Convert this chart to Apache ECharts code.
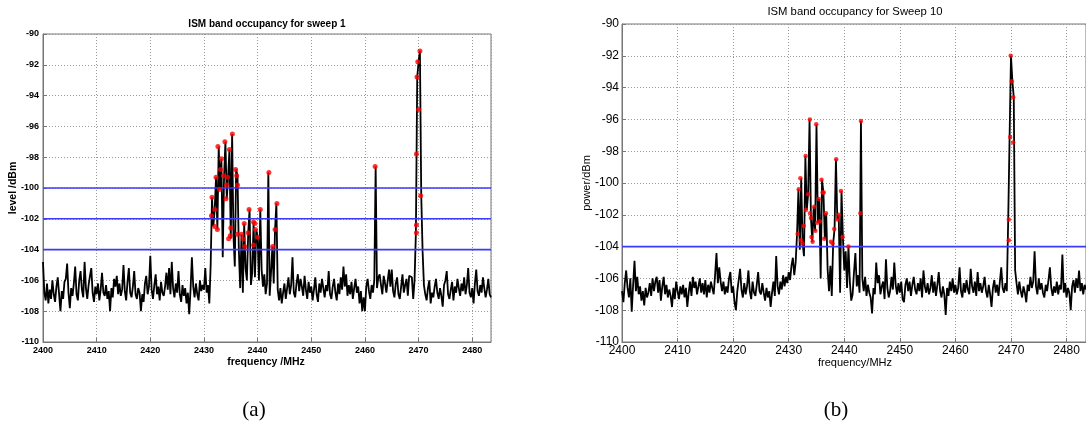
<!DOCTYPE html>
<html>
<head>
<meta charset="utf-8">
<script src="https://cdn.jsdelivr.net/npm/echarts@6/dist/echarts.min.js"></script>
<style>
html,body{margin:0;padding:0;background:#fff;overflow:hidden;}
#chart{width:1086px;height:425px;}
</style>
</head>
<body>
<div id="chart"></div>
<script>
// ---- data ----
const FREQ_START = 2400;
const FREQ_STEP = 0.25;
const FREQ_END = 2483.5;
const xTickStep = 10;
const yMin = -110, yMax = -90, yTickStep = 2;

// sweep 1 trace (dBm), one value per 0.25 MHz from 2400 to 2483.5
const sweep1Power = [
-104.8,-106.8,-107.3,-106.2,-107.5,-106.6,-107.2,-106.0,-106.9,-107.4,-106.4,-105.8,-106.9,-108.0,-106.7,-107.2,-106.1,-105.9,-104.9,-106.8,
-107.8,-106.5,-107.0,-106.2,-105.1,-106.9,-107.3,-106.0,-105.4,-106.6,-107.1,-104.8,-106.5,-107.2,-106.3,-105.7,-105.2,-106.8,-107.4,-106.4,
-106.9,-106.2,-107.3,-106.6,-105.5,-106.8,-107.0,-106.3,-107.2,-106.7,-108.0,-106.5,-107.1,-105.9,-106.4,-105.7,-106.9,-106.2,-107.0,-106.6,
-105.0,-106.7,-107.3,-106.1,-105.2,-106.8,-107.1,-106.4,-105.4,-106.9,-107.2,-106.5,-106.8,-108.0,-106.9,-107.4,-106.2,-105.7,-106.9,-106.4,
-104.4,-106.6,-107.2,-106.3,-105.6,-106.9,-106.4,-107.3,-106.1,-106.8,-107.0,-106.4,-105.5,-106.6,-105.2,-106.9,-104.8,-106.5,-107.1,-106.2,
-106.8,-105.4,-106.9,-107.4,-106.3,-107.0,-106.5,-107.5,-106.8,-108.2,-106.6,-104.5,-106.4,-107.1,-106.2,-106.9,-107.3,-106.0,-106.7,-106.3,
-106.6,-105.2,-106.8,-106.3,-107.5,-105.0,-100.6,-102.5,-101.4,-99.3,-102.7,-97.3,-100.1,-98.1,-104.5,-99.2,-97.0,-100.7,-99.3,-97.5,
-103.3,-96.5,-103.1,-105.1,-98.8,-99.2,-104.0,-106.5,-103.0,-106.8,-102.3,-105.2,-106.0,-102.9,-101.4,-106.3,-105.5,-102.2,-105.8,-102.7,
-103.2,-106.0,-101.4,-105.3,-106.4,-105.6,-106.9,-106.2,-99.0,-107.0,-105.5,-103.8,-106.2,-102.7,-101.0,-106.6,-107.3,-106.5,-107.5,-106.8,
-106.2,-107.2,-106.5,-105.8,-106.9,-106.3,-104.5,-106.8,-107.1,-106.2,-105.6,-106.7,-105.9,-106.4,-107.0,-105.7,-106.6,-107.2,-106.1,-106.8,
-106.4,-107.3,-106.6,-105.8,-106.9,-107.4,-106.2,-106.8,-105.9,-106.5,-107.1,-106.3,-106.7,-105.4,-106.9,-107.2,-106.4,-105.9,-106.8,-107.3,
-106.2,-106.9,-105.8,-106.6,-105.1,-106.4,-105.6,-107.0,-106.3,-106.9,-106.1,-107.2,-106.5,-105.9,-106.8,-106.4,-107.5,-106.7,-108.0,-107.1,
-108.0,-106.4,-105.9,-106.7,-107.2,-106.3,-106.8,-106.0,-98.6,-106.5,-105.8,-105.6,-106.3,-106.9,-105.7,-106.2,-106.8,-106.0,-105.3,-106.4,
-105.3,-106.7,-107.1,-106.2,-105.8,-106.9,-107.2,-106.4,-105.6,-106.8,-106.3,-105.9,-107.0,-105.7,-105.7,-105.8,-107.2,-106.0,-102.9,-92.8,
-91.8,-91.1,-100.5,-104.1,-106.3,-106.9,-107.3,-106.5,-106.0,-107.5,-106.8,-107.1,-106.4,-105.9,-106.8,-107.2,-106.5,-107.0,-107.7,-106.3,
-106.0,-105.4,-106.9,-107.2,-106.6,-106.1,-107.3,-106.4,-106.8,-105.9,-106.5,-107.0,-106.2,-106.7,-105.8,-106.9,-106.3,-105.2,-106.8,-107.1,
-106.5,-107.5,-106.2,-105.3,-106.7,-107.0,-106.3,-106.8,-105.8,-106.5,-107.1,-106.6,-105.9,-106.9,-107.1
];

// sweep 10 trace (dBm)
const sweep10Power = [
-106.8,-107.5,-106.3,-105.5,-106.6,-107.2,-106.0,-108.1,-106.4,-104.9,-106.8,-105.9,-107.0,-106.5,-107.4,-106.8,-107.7,-106.6,-107.2,-106.9,
-106.3,-107.1,-106.0,-106.8,-106.2,-105.9,-106.9,-106.1,-107.4,-106.5,-105.9,-107.0,-106.4,-107.2,-106.7,-107.1,-107.8,-106.6,-107.3,-106.2,
-106.8,-107.3,-106.5,-107.0,-106.4,-107.2,-106.6,-107.8,-106.9,-106.2,-107.1,-105.9,-106.6,-106.2,-107.0,-106.5,-106.0,-106.9,-106.3,-107.0,
-106.1,-107.2,-106.4,-106.9,-106.2,-106.6,-107.0,-105.8,-104.4,-106.3,-105.3,-106.2,-106.8,-106.2,-107.0,-106.5,-106.9,-106.0,-105.6,-106.9,
-106.5,-107.5,-108.0,-106.8,-106.1,-105.4,-106.7,-107.2,-106.3,-107.0,-106.5,-105.5,-106.8,-107.3,-106.2,-106.9,-107.1,-106.4,-105.6,-106.8,
-107.0,-106.3,-106.9,-107.4,-106.6,-107.2,-106.8,-107.8,-106.9,-106.2,-107.1,-104.6,-106.5,-107.0,-106.2,-106.7,-105.8,-106.5,-105.9,-106.3,
-105.6,-106.1,-105.2,-104.7,-105.8,-105.0,-103.2,-100.4,-104.2,-99.7,-103.8,-104.6,-98.3,-101.7,-100.7,-96.0,-102.2,-103.7,-101.5,-103.0,
-96.3,-102.5,-101.0,-106.0,-99.8,-100.6,-103.5,-101.9,-105.4,-106.8,-105.2,-107.1,-103.8,-102.9,-98.5,-102.3,-102.0,-106.9,-100.5,-103.4,
-105.5,-104.3,-106.6,-104.0,-106.2,-107.4,-107.0,-105.6,-104.4,-106.5,-105.8,-106.9,-96.1,-106.0,-106.8,-105.9,-107.1,-106.4,-106.9,-107.2,
-108.2,-106.6,-107.0,-105.0,-106.3,-105.8,-107.0,-106.5,-106.2,-107.3,-104.8,-106.6,-107.2,-106.8,-105.9,-106.7,-105.0,-106.4,-107.0,-106.3,
-106.9,-106.2,-107.3,-107.5,-106.4,-106.0,-106.8,-106.2,-107.1,-106.4,-105.9,-106.7,-107.0,-106.3,-106.8,-106.0,-107.2,-105.5,-106.5,-106.9,
-106.3,-107.0,-106.6,-105.8,-106.9,-106.2,-107.1,-106.4,-105.6,-106.8,-107.2,-106.5,-107.0,-108.3,-106.6,-107.1,-106.2,-106.8,-106.0,-106.9,
-106.4,-107.0,-106.6,-105.3,-106.8,-107.2,-106.3,-106.9,-106.1,-106.7,-107.0,-105.4,-106.5,-106.9,-106.2,-107.1,-105.6,-106.8,-106.3,-106.9,
-106.5,-105.9,-106.8,-107.2,-106.4,-107.0,-107.8,-106.6,-106.1,-106.9,-106.4,-107.1,-106.2,-105.3,-106.6,-106.9,-106.3,-106.8,-102.3,-97.1,
-92.0,-93.6,-94.6,-105.5,-106.3,-107.0,-106.2,-106.8,-107.2,-106.5,-106.9,-107.5,-106.4,-106.8,-105.9,-106.6,-106.2,-104.3,-106.5,-107.0,
-106.0,-106.7,-106.3,-106.9,-107.2,-106.4,-106.8,-106.1,-105.3,-106.6,-107.1,-106.5,-106.9,-106.2,-107.0,-106.4,-106.7,-104.5,-106.9,-106.3,
-107.2,-106.6,-106.9,-108.0,-106.5,-106.1,-106.9,-106.0,-106.6,-105.5,-106.8,-106.3,-107.0,-106.4,-106.7
];

// detected peaks (red markers)
const sweep1PeakFreq = [2431.4,2431.5,2432.0,2432.0,2432.25,2432.5,2432.6,2432.9,2433.1,2433.25,2433.6,2433.9,2434.1,2434.2,2434.4,2434.6,2434.75,2434.9,2435.0,2435.3,2435.9,2436.1,2436.25,2436.25,2437.0,2437.3,2437.5,2437.6,2438.25,2438.4,2439.25,2439.25,2439.5,2439.6,2440.0,2440.5,2442.1,2442.8,2443.25,2443.6,2461.9,2469.6,2469.6,2469.6,2469.7,2469.85,2470.0,2470.25,2470.4];
const sweep1PeakPower = [-101.8,-100.6,-101.4,-102.5,-99.3,-102.7,-97.3,-100.1,-98.8,-98.1,-99.2,-97.0,-100.7,-99.8,-99.3,-103.3,-97.5,-103.1,-102.6,-96.5,-98.8,-99.2,-99.8,-103.0,-103.0,-103.3,-102.3,-103.8,-102.9,-101.4,-102.2,-103.7,-102.3,-102.7,-103.2,-101.4,-99.0,-103.8,-102.7,-101.0,-98.6,-102.9,-102.4,-97.8,-92.8,-91.8,-94.9,-91.1,-100.5];

const sweep10PeakFreq = [2431.6,2431.8,2432.1,2432.2,2432.5,2432.7,2433.05,2433.1,2433.5,2433.8,2433.85,2434.0,2434.1,2434.3,2434.6,2434.8,2434.95,2435.1,2435.4,2435.6,2435.9,2436.1,2436.3,2436.4,2436.7,2437.6,2437.9,2438.2,2438.55,2438.8,2439.0,2439.4,2439.7,2440.75,2442.9,2443.0,2469.6,2469.6,2469.85,2469.95,2470.15,2470.4,2470.4];
const sweep10PeakPower = [-103.2,-100.4,-99.7,-103.6,-103.8,-102.7,-98.3,-101.7,-100.7,-96.0,-101.9,-102.2,-103.4,-103.7,-101.5,-103.0,-96.3,-102.5,-101.0,-102.4,-99.8,-100.6,-100.6,-103.5,-101.9,-103.7,-103.8,-102.9,-98.5,-102.3,-102.0,-100.5,-103.4,-104.0,-101.9,-96.1,-103.6,-102.3,-97.1,-92.0,-93.6,-94.6,-97.45];

const sweep1Thresholds = [-100, -102, -104];
const sweep10Thresholds = [-104];

const titles = ['ISM band occupancy for sweep 1', 'ISM band occupancy for Sweep 10'];
const xNames = ['frequency /MHz', 'frequency/MHz'];
const yNames = ['level /dBm', 'power/dBm'];
const captions = ['(a)', '(b)'];

// ---- build ----
function trace(p) { return p.map((v, i) => [FREQ_START + i * FREQ_STEP, v]); }
function peaks(f, p) { return f.map((x, i) => [x, p[i]]); }

const SANS = '"Liberation Sans", Arial, Helvetica, sans-serif';

const grids = [
  {left: 43, top: 34, width: 448, height: 308},
  {left: 622, top: 24, width: 466, height: 318}
];

function xAxis(i, fs, bold, margin) {
  return {
    type: 'value', gridIndex: i, min: FREQ_START, max: FREQ_END, interval: xTickStep,
    axisLine: {show: true, lineStyle: {color: '#777', width: 1}},
    axisTick: {show: true, inside: true, length: 4, lineStyle: {color: '#777'}},
    axisLabel: {show: true, color: '#000', fontSize: fs, fontWeight: bold ? 'bold' : 'normal',
      fontFamily: SANS, margin: margin, showMaxLabel: false,
      formatter: v => (Math.abs(v % xTickStep) < 1e-6 ? String(v) : '')},
    splitLine: {show: true, lineStyle: {color: '#9a9a9a', type: [1, 2], width: 1}}
  };
}
function yAxis(i, fs, bold, margin) {
  return {
    type: 'value', gridIndex: i, min: yMin, max: yMax, interval: yTickStep,
    axisLine: {show: true, lineStyle: {color: '#777', width: 1}},
    axisTick: {show: true, inside: true, length: 4, lineStyle: {color: '#777'}},
    axisLabel: {show: true, color: '#000', fontSize: fs, fontWeight: bold ? 'bold' : 'normal',
      fontFamily: SANS, margin: margin},
    splitLine: {show: true, lineStyle: {color: '#9a9a9a', type: [1, 2], width: 1}}
  };
}

const series = [];
function addPlot(i, power, thresholds, pf, pp, msize) {
  series.push({
    type: 'line', xAxisIndex: i, yAxisIndex: i, data: trace(power),
    symbol: 'none', sampling: null, lineStyle: {color: '#000', width: 1.8}, z: 2, silent: true
  });
  thresholds.forEach(t => {
    series.push({
      type: 'line', xAxisIndex: i, yAxisIndex: i, data: [[FREQ_START, t], [FREQ_END, t]],
      symbol: 'none', lineStyle: {color: '#3a3aff', width: 1.6}, z: 3, silent: true
    });
  });
  series.push({
    type: 'scatter', xAxisIndex: i, yAxisIndex: i, data: peaks(pf, pp),
    symbol: 'circle', symbolSize: msize, itemStyle: {color: '#ff0000'}, z: 4, silent: true
  });
}
addPlot(0, sweep1Power, sweep1Thresholds, sweep1PeakFreq, sweep1PeakPower, 5);
addPlot(1, sweep10Power, sweep10Thresholds, sweep10PeakFreq, sweep10PeakPower, 4.5);

function txt(text, x, y, font, rot) {
  return {type: 'text', x: x, y: y, rotation: rot || 0, silent: true,
    style: {text: text, font: font, fill: '#000', align: 'center', verticalAlign: 'middle'}};
}

const graphic = [
  txt(titles[0], 267, 24, 'bold 10px ' + SANS),
  txt(titles[1], 855, 12, '11.3px ' + SANS),
  txt(xNames[0], 266, 362, 'bold 10.5px ' + SANS),
  txt(xNames[1], 855, 363, '11px ' + SANS),
  txt(yNames[0], 13, 188, 'bold 10.5px ' + SANS, Math.PI / 2),
  txt(yNames[1], 587, 183, '11px ' + SANS, Math.PI / 2),
  txt(captions[0], 254, 410, '21px "Liberation Serif", "Times New Roman", serif'),
  txt(captions[1], 836, 410, '21px "Liberation Serif", "Times New Roman", serif')
];

const chart = echarts.init(document.getElementById('chart'), null, {renderer: 'canvas'});
chart.setOption({
  animation: false,
  backgroundColor: '#fff',
  grid: grids.map(g => Object.assign({show: true, borderColor: '#777', borderWidth: 1, containLabel: false}, g)),
  xAxis: [xAxis(0, 9, true, 4), xAxis(1, 12, false, 3)],
  yAxis: [yAxis(0, 9, true, 4), yAxis(1, 12, false, 3)],
  series: series,
  graphic: graphic
});
</script>
</body>
</html>
